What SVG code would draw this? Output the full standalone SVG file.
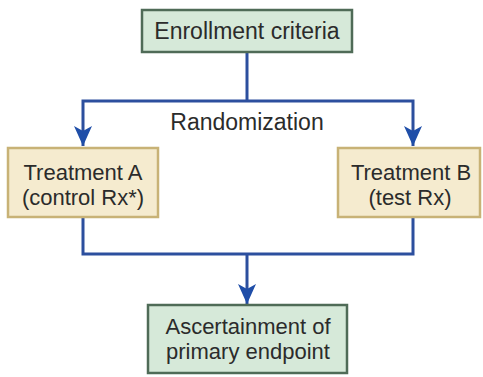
<svg xmlns="http://www.w3.org/2000/svg" width="483" height="377" viewBox="0 0 483 377">
  <style>
    .green { fill: #d6e9d9; stroke: #4f6b57; stroke-width: 2.5; }
    .tan { fill: #f5ebcf; stroke: #c8b276; stroke-width: 2.5; }
    .label { font-family: "Liberation Sans", Arial, sans-serif; font-size: 23px; fill: #2b2b2b; text-anchor: middle; }
    .label.two { font-size: 22px; }
    .wire { fill: none; stroke: #2c4f9e; stroke-width: 3; stroke-linejoin: miter; }
  </style>
  <defs>
    <!-- arrowhead drawn along +x so orient="auto" follows the line direction -->
    <marker id="arrow" markerUnits="userSpaceOnUse" markerWidth="22" markerHeight="20" viewBox="0 0 22 20" refX="21" refY="10" orient="auto-start-reverse">
      <path d="M1,1 L6,10 L1,19 L21,10 Z" fill="#1f4ea8"/>
    </marker>
  </defs>
  <rect width="483" height="377" fill="#ffffff"/>

  <g id="connectors">
    <path class="wire" d="M247,52 V101"/>
    <path class="wire" d="M83,146 V101 H413 V146" marker-start="url(#arrow)" marker-end="url(#arrow)"/>
    <path class="wire" d="M83,217 V254 H413 V217"/>
    <path class="wire" d="M247,254 V304" marker-end="url(#arrow)"/>
    <text class="label" x="247" y="130">Randomization</text>
  </g>

  <g id="enrollment">
    <rect class="green" x="142" y="10" width="210" height="42"/>
    <text class="label" x="247" y="39">Enrollment criteria</text>
  </g>

  <g id="treatment-a">
    <rect class="tan" x="8" y="148" width="150" height="69"/>
    <text class="label two" x="83" y="180">Treatment A</text>
    <text class="label two" x="83" y="205">(control Rx*)</text>
  </g>

  <g id="treatment-b">
    <rect class="tan" x="338" y="148" width="142" height="69"/>
    <text class="label two" x="411" y="180">Treatment B</text>
    <text class="label two" x="410" y="205">(test Rx)</text>
  </g>

  <g id="endpoint">
    <rect class="green" x="148" y="305" width="199" height="68"/>
    <text class="label two" x="248" y="334">Ascertainment of</text>
    <text class="label two" x="248" y="359">primary endpoint</text>
  </g>
</svg>
